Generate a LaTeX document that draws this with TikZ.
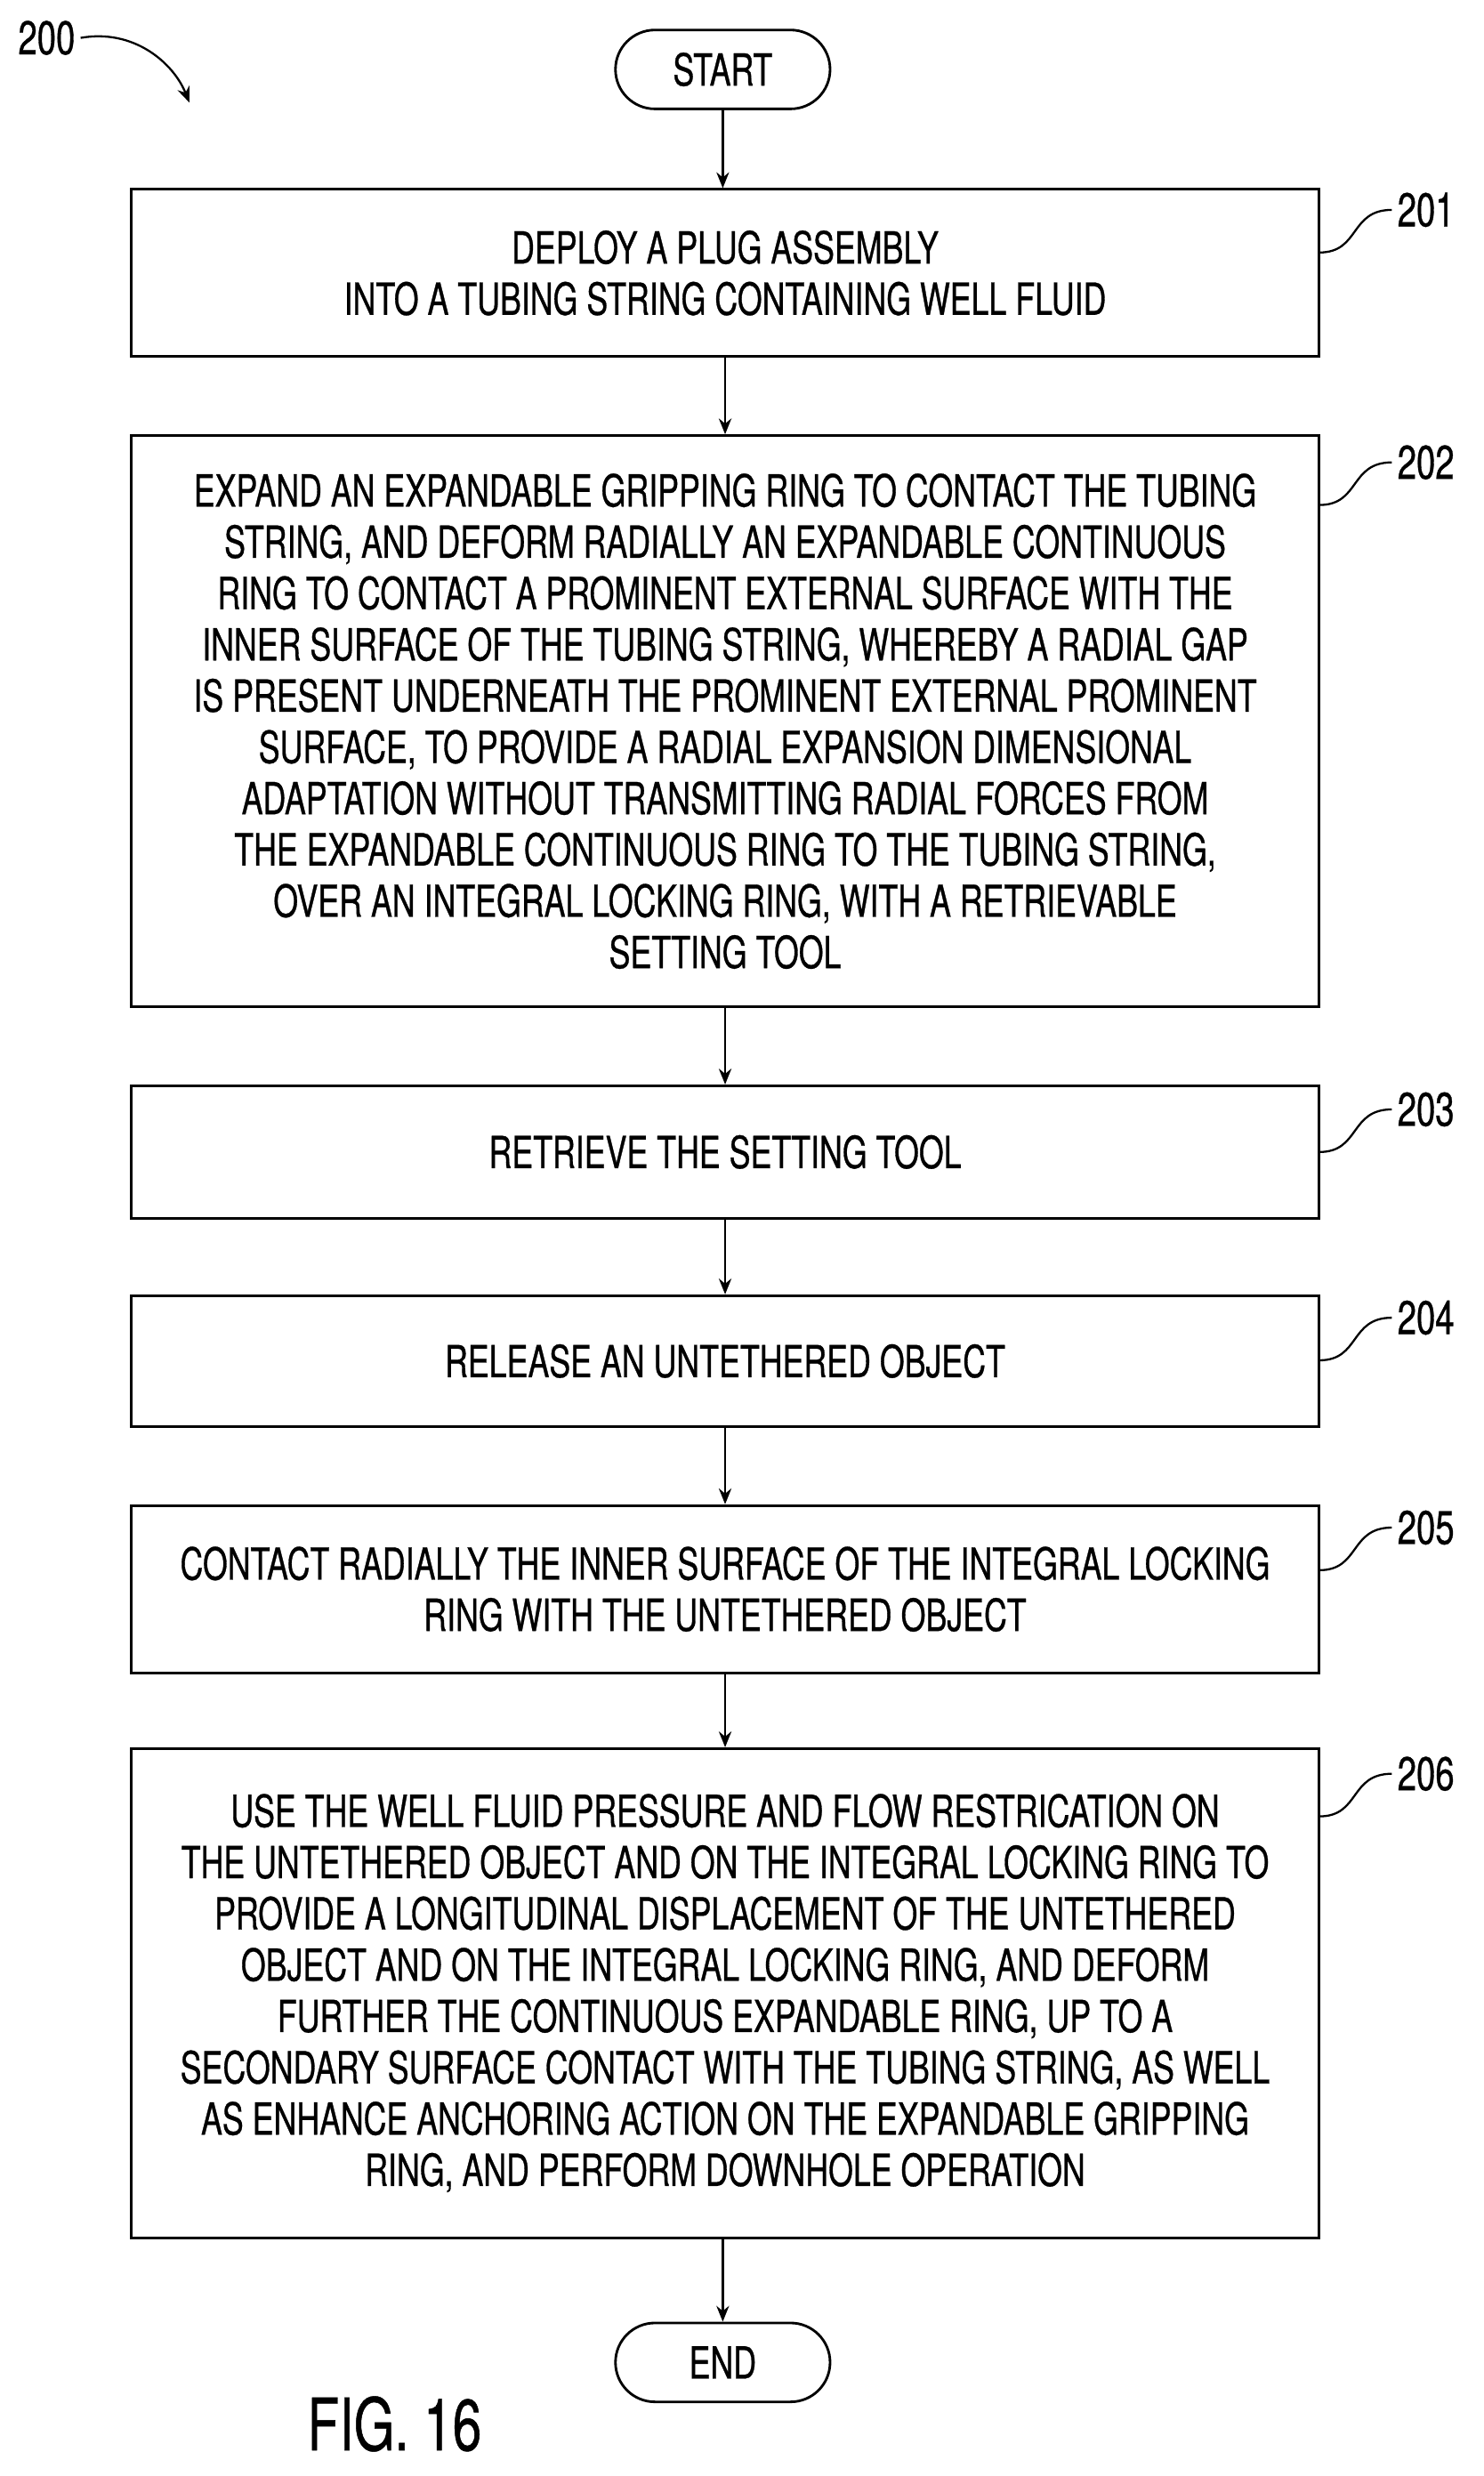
\documentclass[tikz,border=0pt]{standalone}
\usepackage{fontspec}
\setmainfont[FakeStretch=0.72,FakeBold=0.6]{TeX Gyre Heros}
\usetikzlibrary{arrows.meta}
\begin{document}
\begin{tikzpicture}[x=1pt,y=-1pt,
  txt/.style={font=\fontsize{28}{32.5}\selectfont,align=center},
  stepbox/.style={draw,line width=1.6pt,txt,inner sep=0pt},
  term/.style={draw,line width=1.6pt,rounded corners=25pt,txt,minimum width=136pt,minimum height=50pt},
  arr/.style={line width=1.3pt,-{Stealth[length=10pt,width=8pt]}},
  lbl/.style={line width=1.3pt}]
\useasboundingbox (0,0) rectangle (940,1569);
\node[term] (start) at (458,44) {START};
\newcommand{\boxat}[4]{\node[stepbox,minimum width=753pt,minimum height=#3pt] (#1) at (459.5,#2) {#4};}
\boxat{b201}{173}{106}{DEPLOY A PLUG ASSEMBLY\\INTO A TUBING STRING CONTAINING WELL FLUID}
\boxat{b202}{457}{362}{EXPAND AN EXPANDABLE GRIPPING RING TO CONTACT THE TUBING\\STRING, AND DEFORM RADIALLY AN EXPANDABLE CONTINUOUS\\RING TO CONTACT A PROMINENT EXTERNAL SURFACE WITH THE\\INNER SURFACE OF THE TUBING STRING, WHEREBY A RADIAL GAP\\IS PRESENT UNDERNEATH THE PROMINENT EXTERNAL PROMINENT\\SURFACE, TO PROVIDE A RADIAL EXPANSION DIMENSIONAL\\ADAPTATION WITHOUT TRANSMITTING RADIAL FORCES FROM\\THE EXPANDABLE CONTINUOUS RING TO THE TUBING STRING,\\OVER AN INTEGRAL LOCKING RING, WITH A RETRIEVABLE\\SETTING TOOL}
\boxat{b203}{730}{84}{RETRIEVE THE SETTING TOOL}
\boxat{b204}{862.5}{83}{RELEASE AN UNTETHERED OBJECT}
\boxat{b205}{1007}{106}{CONTACT RADIALLY THE INNER SURFACE OF THE INTEGRAL LOCKING\\RING WITH THE UNTETHERED OBJECT}
\boxat{b206}{1263}{310}{USE THE WELL FLUID PRESSURE AND FLOW RESTRICATION ON\\THE UNTETHERED OBJECT AND ON THE INTEGRAL LOCKING RING TO\\PROVIDE A LONGITUDINAL DISPLACEMENT OF THE UNTETHERED\\OBJECT AND ON THE INTEGRAL LOCKING RING, AND DEFORM\\FURTHER THE CONTINUOUS EXPANDABLE RING, UP TO A\\SECONDARY SURFACE CONTACT WITH THE TUBING STRING, AS WELL\\AS ENHANCE ANCHORING ACTION ON THE EXPANDABLE GRIPPING\\RING, AND PERFORM DOWNHOLE OPERATION}
\node[term] (end) at (458,1497) {END};
\draw[arr] (start) -- (start|-b201.north);
\draw[arr] (b201) -- (b201|-b202.north);
\draw[arr] (b202) -- (b202|-b203.north);
\draw[arr] (b203) -- (b203|-b204.north);
\draw[arr] (b204) -- (b204|-b205.north);
\draw[arr] (b205) -- (b205|-b206.north);
\draw[arr] (b206.south-|end) -- (end);
\foreach \n/\y in {201/133,202/293,203/703,204/835,205/968,206/1124}{
  \node[txt,anchor=west,font=\fontsize{30}{32}\selectfont] (l\n) at (882,\y) {\n};
  \draw[lbl] (836,\y+27) .. controls (862,\y+27) and (855,\y) .. (l\n.west);
}
\node[txt,anchor=west,font=\fontsize{30}{32}\selectfont] (l200) at (8,24) {200};
\draw[lbl,-{Stealth[length=10pt,width=8pt]}] (l200.east) .. controls (85,18) and (110,40) .. (120,65);
\node[font=\fontsize{46}{50}\selectfont] (fig) at (250,1536) {FIG. 16};
\end{tikzpicture}
\end{document}
